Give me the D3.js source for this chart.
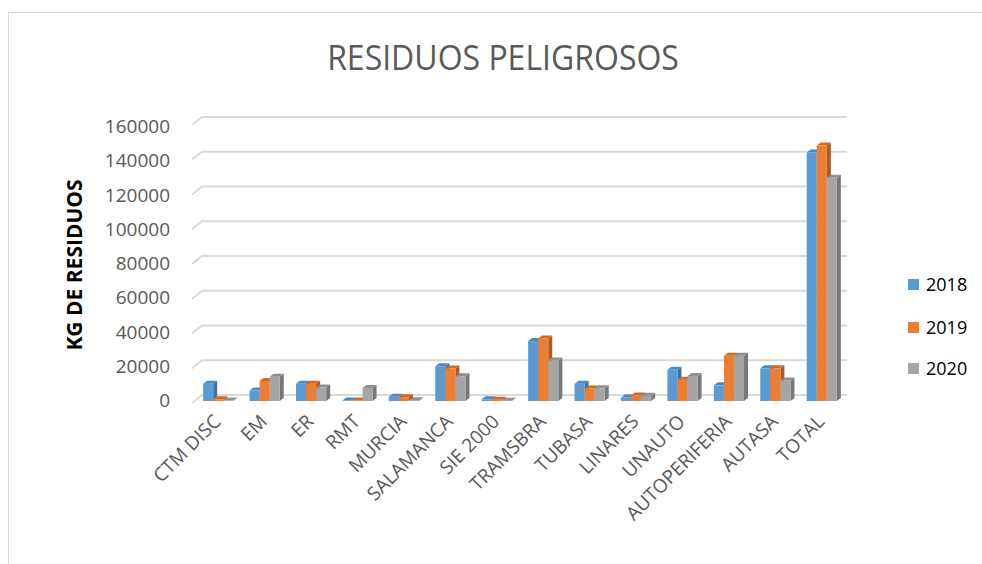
<!DOCTYPE html>
<html>
<head>
<meta charset="utf-8">
<script src="https://cdn.jsdelivr.net/npm/d3@7/dist/d3.min.js"></script>
<style>
  body { margin: 0; background: #fff; }
  text { font-family: "Open Sans", "Liberation Sans", sans-serif; }
</style>
</head>
<body>
<svg id="chart" width="982" height="564"></svg>
<script>
// chart data
const categories = ["CTM DISC", "EM", "ER", "RMT", "MURCIA", "SALAMANCA", "SIE 2000",
  "TRAMSBRA", "TUBASA", "LINARES", "UNAUTO", "AUTOPERIFERIA", "AUTASA", "TOTAL"];
const years = ["2018", "2019", "2020"];
const values2018 = [10000, 6000, 10000, 300, 2500, 20000, 1000, 34500, 10000, 2000, 18000, 9000, 18800, 143000];
const values2019 = [1000, 11500, 10000, 300, 2200, 18700, 700, 36000, 7200, 3200, 12300, 26000, 18800, 147000];
const values2020 = [300, 14000, 7700, 7500, 500, 14200, 200, 23300, 7300, 3000, 14400, 26000, 11800, 128500];
const yTicks = [0, 20000, 40000, 60000, 80000, 100000, 120000, 140000, 160000];

const seriesValues = [values2018, values2019, values2020];
const colors = ["#5B9BD5", "#ED7D31", "#A5A5A5"];
const sideColors = ["#41719C", "#AE5A21", "#787878"];
const topColors = ["#4F88BC", "#CF6A26", "#8F8F8F"];

var svg = d3.select("#chart");

// outer frame
svg.append("rect")
  .attr("x", 8.5).attr("y", 12.5)
  .attr("width", 1000).attr("height", 600)
  .attr("fill", "none").attr("stroke", "#d9d9d9");

// title (a bit taller than wide, like the original)
svg.append("text")
  .attr("transform", "translate(503,70) scale(1,1.1)")
  .attr("text-anchor", "middle")
  .style("font-size", "32px")
  .style("fill", "#595959")
  .text("RESIDUOS PELIGROSOS");

var x = d3.scaleBand()
  .domain(categories)
  .range([195, 845])
  .paddingInner(0.35)
  .paddingOuter(0.175);

var xs = d3.scaleBand()
  .domain(years)
  .range([0, x.bandwidth()]);

var y = d3.scaleLinear()
  .domain([0, 160000])
  .range([401, 123]);

// 3d depth of the back wall and of the bars
var wallDx = 10, wallDy = -8;
var barDx = 4, barDy = -3;

// gridlines on the back wall
var gGrid = svg.append("g");
yTicks.forEach(function(t) {
  var yb = y(t) - 6;
  gGrid.append("path")
    .attr("d", "M" + 192 + "," + (yb - wallDy) + "L" + (192 + wallDx) + "," + yb + "L" + 847 + "," + yb)
    .attr("fill", "none")
    .attr("stroke", "#d9d9d9")
    .attr("stroke-width", 2);
});

// y axis labels
var yAxis = d3.axisLeft(y).tickValues(yTicks).tickSize(0).tickPadding(0).tickFormat(d3.format("d"));
var gY = svg.append("g")
  .attr("transform", "translate(170,0)")
  .call(yAxis);
gY.select(".domain").remove();
gY.selectAll("text")
  .attr("dy", "0.35em")
  .attr("y", function(d) { return -1 + d / 160000 * 4; })
  .style("font-family", "'Open Sans', sans-serif")
  .style("font-size", "19px")
  .style("fill", "#595959");

// y axis title
svg.append("text")
  .attr("transform", "translate(82,265) rotate(-90)")
  .attr("text-anchor", "middle")
  .style("font-size", "21px")
  .style("font-weight", "bold")
  .style("fill", "#000")
  .text("KG DE RESIDUOS");

// bars
var gBars = svg.append("g");
categories.forEach(function(cat, ci) {
  years.forEach(function(yr, si) {
    var v = seriesValues[si][ci];
    var x0 = x(cat) + xs(yr);
    var w = xs.bandwidth();
    var yt = y(v), yb = y(0);
    var g = gBars.append("g");
    // side face
    g.append("path")
      .attr("d", "M" + (x0 + w) + "," + yt + "L" + (x0 + w + barDx) + "," + (yt + barDy) +
        "L" + (x0 + w + barDx) + "," + (yb + barDy) + "L" + (x0 + w) + "," + yb + "Z")
      .attr("fill", sideColors[si]);
    // top face
    g.append("path")
      .attr("d", "M" + x0 + "," + yt + "L" + (x0 + barDx) + "," + (yt + barDy) +
        "L" + (x0 + w + barDx) + "," + (yt + barDy) + "L" + (x0 + w) + "," + yt + "Z")
      .attr("fill", topColors[si]);
    // front face
    g.append("rect")
      .attr("x", x0).attr("y", yt)
      .attr("width", w).attr("height", yb - yt)
      .attr("fill", colors[si]);
  });
});

// x axis labels, rotated
var gX = svg.append("g");
categories.forEach(function(cat) {
  var cx = x(cat) + x.bandwidth() / 2 - 1;
  gX.append("text")
    .attr("transform", "translate(" + cx + ",418) rotate(-45)")
    .attr("text-anchor", "end")
    .attr("dy", "0.35em")
    .style("font-size", "19px")
    .style("fill", "#595959")
    .text(cat);
});

// legend
var legend = svg.append("g");
var legendY = [285, 328, 369];
years.forEach(function(yr, i) {
  legend.append("rect")
    .attr("x", 908).attr("y", legendY[i] - 6)
    .attr("width", 11).attr("height", 11)
    .attr("fill", colors[i]);
  legend.append("text")
    .attr("x", 926).attr("y", legendY[i])
    .attr("dy", "0.35em")
    .style("font-size", "18px")
    .style("fill", "#000")
    .text(yr);
});
</script>
</body>
</html>
